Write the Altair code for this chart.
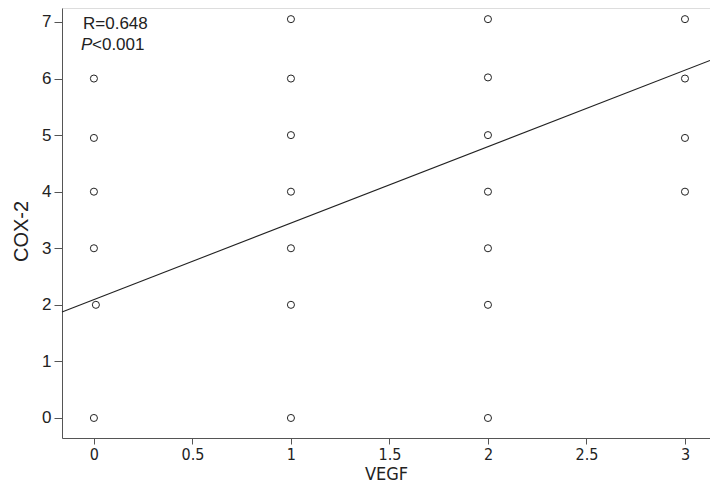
import altair as alt
import pandas as pd

# Observed data points (VEGF score, COX-2 score)
vegf = [0, 0.01, 0, 0, 0, 0,
        1, 1, 1, 1, 1, 1, 1,
        2, 2, 2, 2, 2, 2, 2,
        3, 3, 3, 3]
cox2 = [0, 2, 3, 4, 4.95, 6,
        0, 2, 3, 4, 5, 6, 7.05,
        0, 2, 3, 4, 5, 6.02, 7.05,
        4, 4.95, 6, 7.05]

# Regression line (intercept, slope) and extent
reg_intercept = 2.093
reg_slope = 1.352
line_x = [-0.162, 3.127]

x_ticks = [0, 0.5, 1, 1.5, 2, 2.5, 3]
y_ticks = [0, 1, 2, 3, 4, 5, 6, 7]

x_domain = [-0.162, 3.127]
y_domain = [-0.354, 7.247]

pts = pd.DataFrame({"VEGF": vegf, "COX2": cox2})
ln = pd.DataFrame({"VEGF": line_x, "COX2": [reg_intercept + reg_slope * v for v in line_x]})

narrow = "Liberation Sans Narrow, Arial Narrow, DejaVu Sans Condensed, sans-serif"
regular = "Liberation Sans, Arial, sans-serif"

xs = alt.Scale(domain=x_domain, nice=False, zero=False)
ys = alt.Scale(domain=y_domain, nice=False, zero=False)

xaxis = alt.Axis(values=x_ticks, title="VEGF", grid=False, domainColor="#555", tickColor="#555",
                 tickSize=6, labelFont=narrow, labelFontSize=16, labelColor="#222",
                 labelPadding=2, titleFont=narrow, titleFontSize=18, titleFontWeight="normal",
                 titleColor="#222", labelFlush=False, format="~g",
                 titleX=324, titleY=45, titleBaseline="bottom", titleAlign="center")
yaxis = alt.Axis(values=y_ticks, title="COX-2", grid=False, domainColor="#555", tickColor="#555",
                 tickSize=8, labelFont=regular, labelFontSize=17, labelColor="#222",
                 labelPadding=3, titleFont=regular, titleFontSize=20, titleFontWeight="normal",
                 titleColor="#222", labelFlush=False, format="d",
                 titleX=-41, titleY=223, titleAngle=-90, titleBaseline="middle",
                 titleAlign="center")

points = alt.Chart(pts).mark_point(shape="circle", filled=False, size=50, color="#222",
                                   strokeWidth=1, opacity=1).encode(
    x=alt.X("VEGF:Q", scale=xs, axis=xaxis),
    y=alt.Y("COX2:Q", scale=ys, axis=yaxis),
)

line = alt.Chart(ln).mark_line(color="#222", strokeWidth=1.1).encode(
    x=alt.X("VEGF:Q", scale=xs),
    y=alt.Y("COX2:Q", scale=ys),
)

ann = pd.DataFrame({"t": ["R=0.648"]})
t1 = alt.Chart(ann).mark_text(font=regular, fontSize=17, align="left", baseline="middle",
                              color="#222").encode(
    text="t:N", x=alt.value(21), y=alt.value(16))
ann2 = pd.DataFrame({"t": ["P"]})
t2 = alt.Chart(ann2).mark_text(font=regular, fontSize=17, fontStyle="italic", align="left",
                               baseline="middle", color="#222").encode(
    text="t:N", x=alt.value(19), y=alt.value(37))
ann3 = pd.DataFrame({"t": ["<0.001"]})
t3 = alt.Chart(ann3).mark_text(font=regular, fontSize=17, align="left", baseline="middle",
                               color="#222").encode(
    text="t:N", x=alt.value(30), y=alt.value(37))

chart = alt.layer(line, points, t1, t2, t3).properties(
    width=648, height=430,
    autosize=alt.AutoSizeParams(type="none"),
    padding={"left": 54, "top": 0, "right": 0, "bottom": 45},
).configure_view(stroke=None).configure(background="white")

chart.save("out.html", embed_options={"renderer": "svg", "actions": False})
